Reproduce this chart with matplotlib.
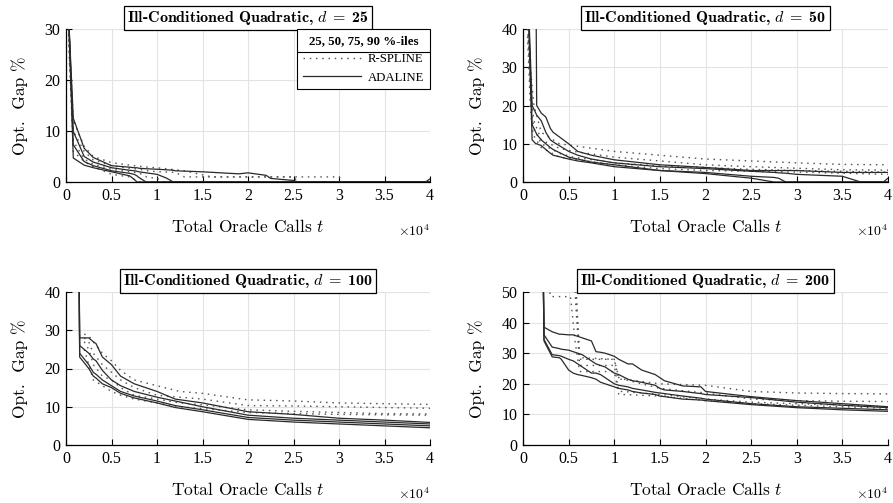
import matplotlib
matplotlib.use("Agg")
import matplotlib.pyplot as plt
from matplotlib.lines import Line2D
from matplotlib.font_manager import FontProperties
import numpy as np

plt.rcParams['mathtext.fontset'] = 'cm'
plt.rcParams['axes.unicode_minus'] = False

# ---------------- data (x in units of 10^4 oracle calls) ----------------
# d = 25
d25_ada_x = [0.03, 0.08, 0.2, 0.3, 0.5, 0.7, 0.75, 0.78, 0.8, 0.88, 1.0, 1.1, 1.18, 1.2,
             1.5, 1.7, 1.9, 2.0, 2.2, 2.25, 2.5, 2.55, 3.95, 4.0]
d25_ada_q90 = [32, 12.5, 6.6, 4.8, 3.2, 2.9, 2.8, 2.8, 2.7, 2.6, 2.5, 2.4, 2.3, 2.2,
               2.0, 1.8, 1.6, 1.8, 1.3, 0.7, 0.3, 0, 0, 0.6]
d25_ada_q75 = [32, 9.9, 5.0, 3.9, 2.8, 2.3, 2.2, 2.1, 2.0, 1.8, 1.5, 0.8, 0, 0,
               0, 0, 0, 0, 0, 0, 0, 0, 0, 0]
d25_ada_q50 = [32, 7.3, 4.0, 3.2, 2.2, 1.7, 1.5, 1.2, 0.9, 0, 0, 0, 0, 0,
               0, 0, 0, 0, 0, 0, 0, 0, 0, 0]
d25_ada_q25 = [32, 4.7, 3.3, 2.8, 2.0, 1.2, 0.5, 0, 0, 0, 0, 0, 0, 0,
               0, 0, 0, 0, 0, 0, 0, 0, 0, 0]
d25_rsp_x = [0.03, 0.08, 0.2, 0.3, 0.5, 0.7, 0.8, 0.9, 1.0, 1.05, 1.2, 1.3, 1.6, 2.5,
             2.55, 3.0, 3.05, 4.0]
d25_rsp_q90 = [30, 12, 7, 5, 3.8, 3.3, 3.1, 2.9, 2.8, 2.7, 2.4, 2.2, 1.0, 1.0, 1.0, 1.0, 0, 0]
d25_rsp_q75 = [29, 10, 6, 4.3, 3.2, 2.7, 2.5, 2.2, 2.0, 2.0, 1.9, 1.0, 1.0, 1.0, 0, 0, 0, 0]
d25_rsp_q50 = [28, 8, 4.5, 3.5, 2.5, 2.0, 1.8, 0.85, 0.8, 0, 0, 0, 0, 0, 0, 0, 0, 0]
d25_rsp_q25 = [27, 6, 4.0, 3.0, 1.5, 1.0, 0, 0, 0, 0, 0, 0, 0, 0, 0, 0, 0, 0]

# d = 50
d50_ada_x = [0.04, 0.1, 0.14, 0.15, 0.2, 0.25, 0.3, 0.33, 0.5, 0.6, 0.75, 1.0, 1.5, 2.0,
             2.5, 2.75, 2.8, 2.88, 3.0, 3.5, 3.7, 3.95, 4.0]
d50_ada_q90 = [60, 60, 60, 20, 18, 17, 14, 13, 10, 8, 7, 5.8, 4.5, 3.8,
               3.0, 3.0, 3.0, 3.0, 3.0, 2.5, 2.5, 2.5, 2.5]
d50_ada_q75 = [60, 20, 18, 17.5, 16, 13, 11, 10.5, 8, 7, 6, 5, 4, 3.5,
               2.8, 2.5, 2.4, 2.3, 2.0, 1.5, 0, 0, 1.0]
d50_ada_q50 = [60, 15, 13, 12.5, 11, 10, 9, 8.5, 6.5, 6, 5.2, 4.5, 3.0, 2.5,
               1.5, 1.2, 1.0, 0, 0, 0, 0, 0, 0]
d50_ada_q25 = [60, 11, 10, 10, 9.5, 8.5, 7.5, 7, 6, 5.5, 5, 4, 3, 2.2,
               1.0, 0, 0, 0, 0, 0, 0, 0, 0]
d50_rsp_x = [0.05, 0.08, 0.1, 0.12, 0.2, 0.4, 0.55, 1.0, 1.5, 2.0, 2.5, 3.0, 3.5, 4.0]
d50_rsp_q90 = [45, 30, 25, 20, 13, 10, 9.5, 8.0, 7.0, 6.0, 5.5, 5.0, 4.6, 4.5]
d50_rsp_q75 = [42, 27, 20, 16, 11, 8.8, 8.0, 6.5, 5.5, 4.5, 4.0, 3.6, 3.2, 3.1]
d50_rsp_q50 = [40, 24, 17, 14, 10, 7.5, 6.5, 5.0, 4.2, 3.8, 3.3, 3.0, 2.8, 2.6]
d50_rsp_q25 = [38, 20, 14, 12, 9, 6.5, 6.0, 4.5, 3.5, 3.0, 2.8, 2.6, 2.3, 2.0]

# d = 100
d100_ada_x = [0.14, 0.15, 0.25, 0.3, 0.33, 0.4, 0.5, 0.6, 0.75, 1.0, 1.2, 1.5, 2.0,
              2.5, 3.0, 3.5, 4.0]
d100_ada_q90 = [60, 28, 28, 27, 26.5, 23, 21, 18, 16, 14, 12, 11, 8.7, 8, 7, 6.5, 5.9]
d100_ada_q75 = [60, 26, 24, 22.5, 22, 19.5, 17, 15.5, 14, 12.5, 11.5, 10, 7.8, 7.0, 6.5, 6.0, 5.5]
d100_ada_q50 = [60, 24, 21, 19, 18.5, 17, 15.5, 14, 12.8, 11.5, 10.3, 9.2, 7.2, 6.5, 6.0, 5.5, 5.0]
d100_ada_q25 = [60, 23, 20, 18, 17.5, 16, 15, 13.5, 12.3, 11, 9.8, 8.7, 6.7, 6.0, 5.5, 5.0, 4.5]
d100_rsp_x = [0.2, 0.25, 0.3, 0.4, 0.5, 0.6, 0.75, 1.0, 1.25, 1.5, 2.0, 2.5, 3.0, 3.5, 4.0]
d100_rsp_q90 = [29, 28.5, 27, 24, 22, 19.5, 17, 15.5, 14, 13.5, 11.8, 11.5, 11, 10.8, 10.6]
d100_rsp_q75 = [28, 27, 24, 21, 19, 17, 15, 13, 12.5, 12, 10.3, 10.2, 10, 9.8, 9.6]
d100_rsp_q50 = [27, 25, 21, 18, 17, 15, 13, 12, 11, 10.5, 9.2, 8.8, 8.5, 8.2, 8.1]
d100_rsp_q25 = [25, 21, 17, 15.5, 14, 13, 12, 11, 10, 9.5, 8.5, 8.2, 8.0, 7.9, 7.8]

# d = 200
d200_ada_x = [0.22, 0.23, 0.32, 0.4, 0.42, 0.5, 0.55, 0.6, 0.65, 0.75, 0.8, 0.85, 0.9, 0.95,
              1.0, 1.05, 1.15, 1.2, 1.3, 1.45, 1.5, 1.55, 1.75, 1.95, 2.0, 2.5, 3.0, 3.5, 4.0]
d200_ada_q90 = [60, 38.5, 37, 36.2, 36.2, 36, 36, 35.5, 35, 34, 30.5, 30.3, 30, 29.5,
                29, 28, 26.5, 26.5, 24.5, 23, 22, 21, 19.3, 19, 17.5, 15.8, 14.5, 13.5, 12.5]
d200_ada_q75 = [60, 36, 32, 31.5, 31.3, 31, 30.5, 30, 29.5, 27.5, 26.5, 26, 25.5, 24.5,
                23.5, 23, 21.5, 21, 20.5, 19.5, 18.5, 18, 17.5, 16.8, 16.5, 15.5, 14, 13, 12.2]
d200_ada_q50 = [60, 34.5, 29.5, 29.2, 29, 28, 27.5, 26.5, 25.5, 23.5, 23.5, 23, 22, 21,
                20, 19.5, 19, 18.5, 18, 17.2, 17, 16.8, 16, 15.3, 15, 13.5, 12.5, 12, 11.5]
d200_ada_q25 = [60, 34, 28.8, 28.5, 28, 24.5, 23.5, 23, 22.7, 22, 21.5, 20.5, 20, 19.5,
                19, 18.5, 18, 17.5, 17, 16.5, 16, 15.8, 15, 14.7, 14.5, 13.2, 12.2, 11.5, 11]
d200_rsp_x = [0.26, 0.3, 0.52, 0.55, 0.57, 0.62, 0.64, 1.0, 1.05, 1.1, 1.5, 2.0, 2.5, 3.0, 3.5, 4.0]
d200_rsp_q90 = [60, 60, 60, 60, 58, 29, 28.5, 28, 22, 21.5, 20, 19.5, 17.5, 17, 16.8, 16.7]
d200_rsp_q75 = [60, 60, 60, 60, 55, 28, 28, 28, 21.5, 21.5, 18.5, 17, 15, 14.5, 14.3, 14.2]
d200_rsp_q50 = [60, 60, 60, 60, 50, 26, 26, 26, 17.5, 17.5, 16.5, 15, 14, 13.5, 13, 12.5]
d200_rsp_q25 = [60, 48.5, 48.5, 40, 34, 24, 24, 24, 16.5, 16.5, 16, 14.5, 13.5, 13, 12.5, 12]

dims = [25, 50, 100, 200]
ymaxes = [30, 40, 40, 50]
xticks = [0, 0.5, 1, 1.5, 2, 2.5, 3, 3.5, 4]
xticklabels = ['0', '0.5', '1', '1.5', '2', '2.5', '3', '3.5', '4']
legend_title = '25, 50, 75, 90 %-iles'
method_names = ['R-SPLINE', 'ADALINE']

panels = [
    (d25_rsp_x, [d25_rsp_q25, d25_rsp_q50, d25_rsp_q75, d25_rsp_q90],
     d25_ada_x, [d25_ada_q25, d25_ada_q50, d25_ada_q75, d25_ada_q90]),
    (d50_rsp_x, [d50_rsp_q25, d50_rsp_q50, d50_rsp_q75, d50_rsp_q90],
     d50_ada_x, [d50_ada_q25, d50_ada_q50, d50_ada_q75, d50_ada_q90]),
    (d100_rsp_x, [d100_rsp_q25, d100_rsp_q50, d100_rsp_q75, d100_rsp_q90],
     d100_ada_x, [d100_ada_q25, d100_ada_q50, d100_ada_q75, d100_ada_q90]),
    (d200_rsp_x, [d200_rsp_q25, d200_rsp_q50, d200_rsp_q75, d200_rsp_q90],
     d200_ada_x, [d200_ada_q25, d200_ada_q50, d200_ada_q75, d200_ada_q90]),
]

# ---------------- figure ----------------
W, H = 893, 503
fig = plt.figure(figsize=(W / 100, H / 100), dpi=100)
boxes = [(66, 29, 364, 153), (523, 29, 365, 153), (66, 292, 364, 153), (523, 292, 365, 153)]

RSP_STYLE = dict(color='#555555', lw=1.0, linestyle=(0, (1.1, 3.4)))
ADA_STYLE = dict(color='#2a2a2a', lw=0.9, linestyle='-')

tick_fp = FontProperties(family='Liberation Serif', size=11.5)
axes = []
for i, (bx, by, bw, bh) in enumerate(boxes):
    ax = fig.add_axes([bx / W, 1 - (by + bh) / H, bw / W, bh / H])
    axes.append(ax)
    rx, rqs, ax_x, aqs = panels[i]
    for q in rqs:
        ax.plot(rx, q, **RSP_STYLE)
    for q in aqs:
        ax.plot(ax_x, q, **ADA_STYLE)
    ax.set_xlim(0, 4)
    ax.set_ylim(0, ymaxes[i])
    ax.set_xticks(xticks)
    ax.set_xticklabels(xticklabels)
    ax.set_yticks(np.arange(0, ymaxes[i] + 1, 10))
    for lab in ax.get_xticklabels() + ax.get_yticklabels():
        lab.set_fontproperties(tick_fp)
    ax.tick_params(direction='in', length=4, width=0.8, pad=4, colors='black')
    ax.grid(True, color='#e3e3e3', lw=0.8)
    ax.set_axisbelow(True)
    for s in ['top', 'right']:
        ax.spines[s].set_visible(False)
    for s in ['left', 'bottom']:
        ax.spines[s].set_linewidth(0.9)
    ax.set_xlabel('Total Oracle Calls $t$', fontfamily='cmr10', fontsize=12.5, labelpad=10.5)
    ax.set_ylabel('Opt.  Gap %', fontfamily='cmr10', fontsize=12.5, labelpad=12)
    ax.set_title('Ill-Conditioned Quadratic, ' + r'$d\;=\;$' + '%d' % dims[i], fontfamily='cmb10',
                 fontsize=11.5, pad=5,
                 bbox=dict(boxstyle='square,pad=0.2', fc='white', ec='black', lw=0.9))
    ax.text(1.0, -0.32, r'$\times 10^4$', transform=ax.transAxes, ha='right', va='center',
            fontsize=10)

# legend on first panel
ax0 = axes[0]
handles = [Line2D([], [], **RSP_STYLE), Line2D([], [], **ADA_STYLE)]
leg = ax0.legend(handles, method_names, loc='upper right', borderaxespad=0,
                 title=legend_title,
                 title_fontproperties=FontProperties(family='Liberation Serif', weight='bold', size=9.3),
                 prop=FontProperties(family='Liberation Serif', size=9.2),
                 frameon=True, fancybox=False, edgecolor='black', framealpha=1,
                 handlelength=4.6, handletextpad=0.5, borderpad=0.45, labelspacing=0.5,
                 alignment='center')
leg.get_frame().set_linewidth(0.8)
leg._legend_title_box.sep = 15

fig.canvas.draw()
r = fig.canvas.get_renderer()
fb = leg.get_frame().get_window_extent(r)
tb = leg.get_title().get_window_extent(r)
ysep = tb.y0 - 5
inv = fig.transFigure.inverted()
(x0f, yf), (x1f, _) = inv.transform([(fb.x0, ysep), (fb.x1, ysep)])
fig.add_artist(Line2D([x0f, x1f], [yf, yf], transform=fig.transFigure, color='black', lw=0.8))

fig.savefig('out.png', dpi=100)
